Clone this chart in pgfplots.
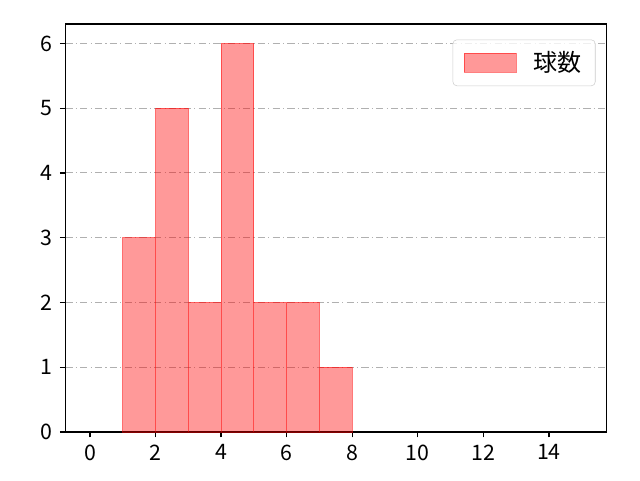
\documentclass[border=0pt]{standalone}
\usepackage{fontspec}
\setmainfont{Noto Sans CJK JP}
\usepackage{pgfplots}
\pgfplotsset{compat=1.18}
\definecolor{gridgray}{HTML}{B0B0B0}
\definecolor{legframe}{HTML}{CCCCCC}
\begin{document}
\fontsize{16}{19}\selectfont
\begin{tikzpicture}
\useasboundingbox (-49pt,-36pt) rectangle (431pt,324pt);
\begin{axis}[
    at={(0,0)}, anchor=south west,
    scale only axis,
    width=405.75pt, height=306pt,
    xmin=-0.75, xmax=15.75,
    ymin=0, ymax=6.3,
    xtick={0,2,...,14},
    ytick={0,1,...,6},
    axis line style={line width=1pt},
    tick style={black, line width=0.9pt},
    tick align=outside,
    major tick length=4pt,
    xtick pos=bottom, ytick pos=left,
    ymajorgrids,
    major grid style={gridgray, line width=0.75pt,
        dash pattern=on 5.5pt off 2.3pt on 1pt off 2.3pt},
    /pgf/number format/assume math mode=true,
    ticklabel style={font=\fontsize{16}{19}\selectfont},
    legend style={at={(0.98,0.962)}, anchor=north east,
        draw=legframe, rounded corners=3pt, fill=white, fill opacity=0.8,
        text opacity=1, font=\fontsize{18}{21}\selectfont,
        inner xsep=8pt, inner ysep=6.5pt},
    legend cell align=left,
    legend image code/.code={
        \path[sharp corners, draw=none, fill=red, fill opacity=0.4]
            (0pt,-7pt) rectangle (39pt,7pt);
        \path[sharp corners, fill=none, draw=red, draw opacity=0.5]
            (0pt,-7pt) rectangle (39pt,7pt);
    },
]
\addplot[ybar interval, fill=red, fill opacity=0.4,
    draw=red, draw opacity=0.5, line width=0.75pt] coordinates {
    (1,3) (2,5) (3,2) (4,6) (5,2) (6,2) (7,1) (8,1)
};
\addlegendentry{\hspace{11pt}球数}
\end{axis}
\end{tikzpicture}
\end{document}
